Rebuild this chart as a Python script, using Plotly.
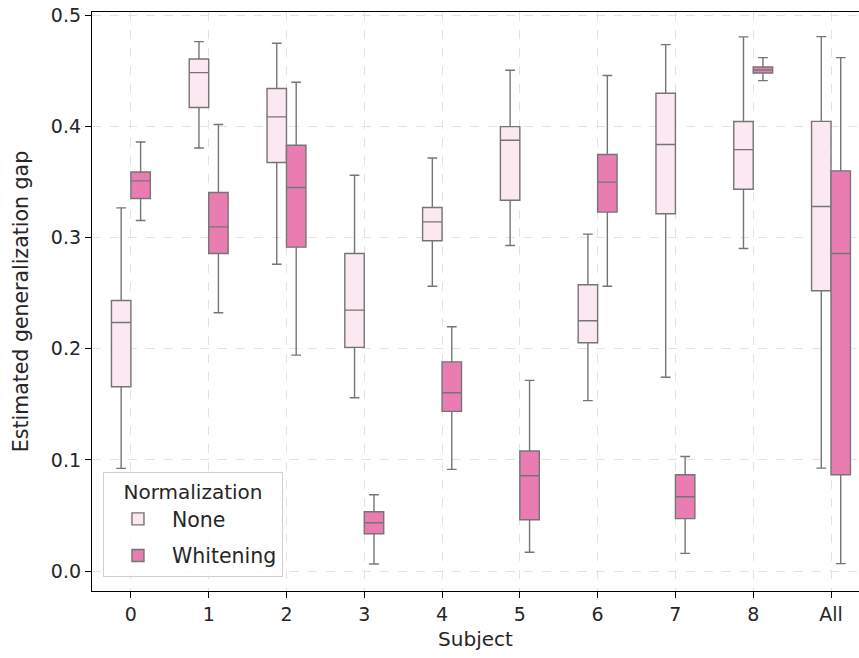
import plotly.graph_objects as go

subjects = ["0", "1", "2", "3", "4", "5", "6", "7", "8", "All"]

# None normalization
none_upper = [0.3266, 0.4761, 0.4746, 0.3560, 0.3715, 0.4503, 0.3030, 0.4734, 0.4803, 0.4806]
none_q3    = [0.2434, 0.4605, 0.4339, 0.2856, 0.3269, 0.3997, 0.2575, 0.4297, 0.4042, 0.4044]
none_med   = [0.2236, 0.4482, 0.4084, 0.2347, 0.3140, 0.3874, 0.2252, 0.3836, 0.3790, 0.3278]
none_q1    = [0.1658, 0.4168, 0.3674, 0.2012, 0.2970, 0.3335, 0.2054, 0.3213, 0.3434, 0.2521]
none_lower = [0.0924, 0.3805, 0.2760, 0.1559, 0.2562, 0.2928, 0.1533, 0.1744, 0.2901, 0.0927]

# Whitening normalization
wh_upper = [0.3858, 0.4015, 0.4395, 0.0687, 0.2197, 0.1715, 0.4456, 0.1031, 0.4617, 0.4617]
wh_q3    = [0.3588, 0.3404, 0.3829, 0.0535, 0.1882, 0.1080, 0.3746, 0.0867, 0.4533, 0.3599]
wh_med   = [0.3509, 0.3095, 0.3449, 0.0436, 0.1604, 0.0858, 0.3498, 0.0669, 0.4506, 0.2856]
wh_q1    = [0.3350, 0.2856, 0.2913, 0.0337, 0.1437, 0.0463, 0.3228, 0.0473, 0.4479, 0.0867]
wh_lower = [0.3153, 0.2323, 0.1942, 0.0065, 0.0915, 0.0170, 0.2562, 0.0160, 0.4410, 0.0068]

y_ticks = [0.0, 0.1, 0.2, 0.3, 0.4, 0.5]

FONT = "DejaVu Sans"
EDGE = "#757575"

fig = go.Figure()
fig.add_trace(go.Box(
    name="None", x=subjects,
    q1=none_q1, median=none_med, q3=none_q3,
    lowerfence=none_lower, upperfence=none_upper,
    fillcolor="#fce8f1", line=dict(color=EDGE, width=1.4),
    whiskerwidth=0.5, boxpoints=False, legendgroup="a",
))
fig.add_trace(go.Box(
    name="Whitening", x=subjects,
    q1=wh_q1, median=wh_med, q3=wh_q3,
    lowerfence=wh_lower, upperfence=wh_upper,
    fillcolor="#e97db1", line=dict(color=EDGE, width=1.4),
    whiskerwidth=0.5, boxpoints=False, legendgroup="b",
))

fig.update_layout(
    width=859, height=658,
    margin=dict(l=92, r=0, t=12, b=67),
    paper_bgcolor="white", plot_bgcolor="white",
    font=dict(family=FONT, size=20, color="#262626"),
    boxmode="group", boxgap=0.5, boxgroupgap=0.0,
    showlegend=True,
    legend=dict(
        title=dict(text="Normalization", side="top center", font=dict(size=20)),
        x=0.0143, y=0.2055, xanchor="left", yanchor="top",
        bgcolor="rgba(255,255,255,0.8)", bordercolor="#d0d0d0", borderwidth=1,
        font=dict(size=20.5), tracegroupgap=7,
        itemwidth=58, entrywidth=168,
    ),
)
fig.update_xaxes(
    type="category", categoryorder="array", categoryarray=subjects,
    range=[-0.5, 9.36],
    title=dict(text="Subject", font=dict(size=20), standoff=8),
    showline=True, linecolor="black", linewidth=1.3, mirror=True,
    ticks="outside", ticklen=6, tickcolor="black", tickwidth=1.2,
    tickfont=dict(size=19),
    showgrid=True, gridcolor="#e3e3e3", griddash="dash", gridwidth=1,
    zeroline=False,
)
fig.update_yaxes(
    range=[-0.0178, 0.5027],
    tickvals=y_ticks, ticktext=[f"{v:.1f}" for v in y_ticks],
    title=dict(text="Estimated generalization gap", font=dict(size=20.5), standoff=16),
    showline=True, linecolor="black", linewidth=1.3, mirror=False,
    ticks="outside", ticklen=6, tickcolor="black", tickwidth=1.2,
    tickfont=dict(size=19),
    showgrid=True, gridcolor="#e3e3e3", griddash="dash", gridwidth=1,
    zeroline=False,
)

fig.write_html("out.html")
